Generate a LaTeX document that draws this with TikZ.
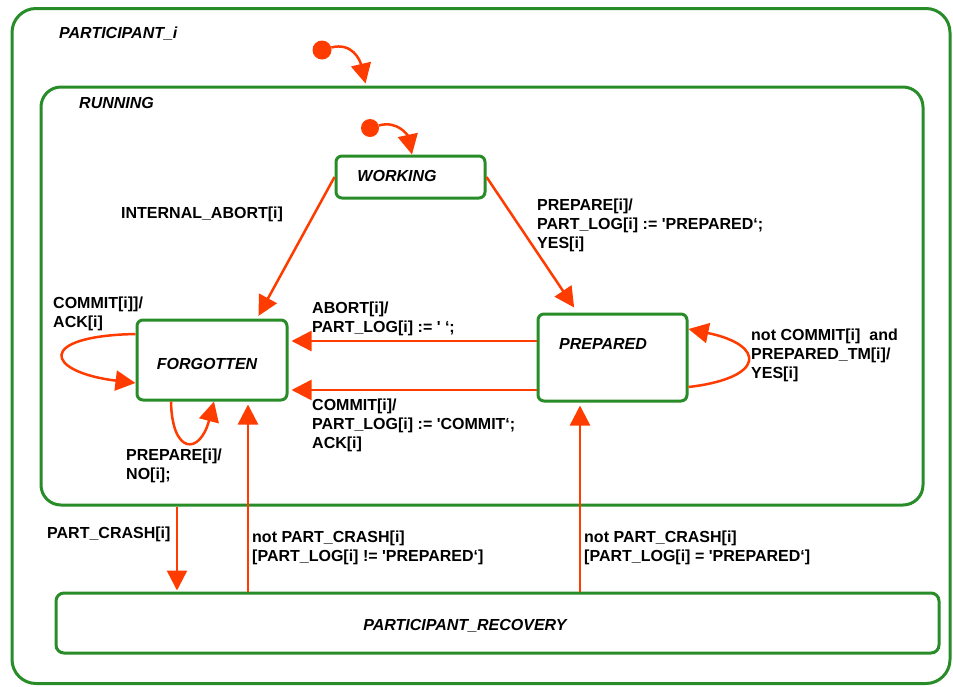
\documentclass[tikz,border=0pt]{standalone}
\usepackage{fontspec}
\setmainfont{Liberation Sans}[Ligatures=TeXOff]
\usetikzlibrary{arrows.meta}
\definecolor{stgreen}{RGB}{40,140,40}
\definecolor{trred}{RGB}{255,60,0}
\begin{document}
\begin{tikzpicture}[x=1pt,y=-1pt,
  region/.style={draw=stgreen, line width=3pt, rounded corners=24pt, inner sep=0pt},
  state/.style={draw=stgreen, line width=3pt, rounded corners=6pt, inner sep=0pt},
  title/.style={font=\fontsize{16}{19}\selectfont\bfseries\itshape, inner sep=0pt},
  lbl/.style={font=\fontsize{16}{19}\selectfont\bfseries, align=left, inner sep=0pt, anchor=north west},
  tr/.style={draw=trred, line width=2.5pt, -{Triangle[length=20pt,width=20pt]}, shorten >=3pt},
  initdot/.style={circle, fill=trred, minimum size=19pt, inner sep=0pt}]
\useasboundingbox (0,0) rectangle (953,686);

% composite states
\node[region, minimum width=938pt, minimum height=675pt] (participant) at (481,346) {};
\node[title, anchor=west] (participantL) at (59,34) {PARTICIPANT\_i};
\node[region, rounded corners=20pt, minimum width=882pt, minimum height=418pt] (running) at (482,296) {};
\node[title, anchor=west] (runningL) at (79,103) {RUNNING};

% simple states
\node[state, minimum width=149pt, minimum height=42pt] (working) at (410.5,177) {};
\node[title] (workingL) at (397,176) {WORKING};
\node[state, minimum width=150pt, minimum height=80pt] (forgotten) at (212,360) {};
\node[title] (forgottenL) at (207,364) {FORGOTTEN};
\node[state, minimum width=149pt, minimum height=87pt] (prepared) at (612.5,357.5) {};
\node[title] (preparedL) at (603,344) {PREPARED};
\node[state, rounded corners=8pt, minimum width=883pt, minimum height=60pt] (recovery) at (497.5,623) {};
\node[title] (recoveryL) at (465,626) {PARTICIPANT\_RECOVERY};

% initial pseudo-states
\node[initdot] (init1) at (322,50) {};
\node[initdot, minimum size=18pt] (init2) at (370,128) {};
\draw[tr, shorten >=2pt] (init1) .. controls (352,42) and (360,60) .. ([xshift=-116pt]running.north);
\draw[tr, shorten >=0pt] (init2) .. controls (398,120) and (408,136) .. ([xshift=1.5pt]working.north);

% transitions inside RUNNING
\draw[tr] (working.west) -- ([xshift=45pt]forgotten.north);
\draw[tr, shorten >=6pt] (working.east) -- ([xshift=-35pt]prepared.north);
\draw[tr] ([yshift=16.5pt]prepared.west) -- ([yshift=16.5pt]prepared.west -| forgotten.east);
\draw[tr] ([yshift=-32.5pt]prepared.west) -- ([yshift=-32.5pt]prepared.west -| forgotten.east);
\draw[tr, shorten >=0pt] ([yshift=26pt]forgotten.west) .. controls (35,336) and (45,372) .. ([yshift=-23pt]forgotten.west);
\draw[tr, shorten >=0pt] ([xshift=-41pt]forgotten.south) .. controls (172,455) and (200,455) .. ([xshift=2pt]forgotten.south);
\draw[tr, shorten >=0pt] ([yshift=-29.5pt]prepared.east) .. controls (766,378) and (766,345) .. ([yshift=28.5pt]prepared.east);

% transitions to and from recovery
\draw[tr, shorten >=1pt] ([xshift=-305pt]running.south) -- ([xshift=-305pt]running.south |- recovery.north);
\draw[tr] ([xshift=36pt]forgotten.south |- recovery.north) -- ([xshift=36pt]forgotten.south);
\draw[tr] ([xshift=-32.5pt]prepared.south |- recovery.north) -- ([xshift=-32.5pt]prepared.south);

% transition labels
\node[lbl, anchor=west] (abortIntL) at (121,214) {INTERNAL\_ABORT[i]};
\node[lbl] (prepYesL) at (537,199) {PREPARE[i]/\\PART\_LOG[i] := 'PREPARED‘;\\YES[i]};
\node[lbl] (commitAckL) at (53,297) {COMMIT[i]]/\\ACK[i]};
\node[lbl] (abortL) at (312,302) {ABORT[i]/\\PART\_LOG[i] := ' ‘;};
\node[lbl] (commitL) at (312,399) {COMMIT[i]/\\PART\_LOG[i] := 'COMMIT‘;\\ACK[i]};
\node[lbl] (prepNoL) at (126,449) {PREPARE[i]/\\NO[i];};
\node[lbl] (prepTmL) at (751,329) {not COMMIT[i]\ \ and\\PREPARED\_TM[i]/\\YES[i]};
\node[lbl, anchor=west] (crashL) at (47,534) {PART\_CRASH[i]};
\node[lbl] (recForgL) at (252,531) {not PART\_CRASH[i]\\{}[PART\_LOG[i] != 'PREPARED‘]};
\node[lbl] (recPrepL) at (584,531) {not PART\_CRASH[i]\\{}[PART\_LOG[i] = 'PREPARED‘]};
\end{tikzpicture}
\end{document}
